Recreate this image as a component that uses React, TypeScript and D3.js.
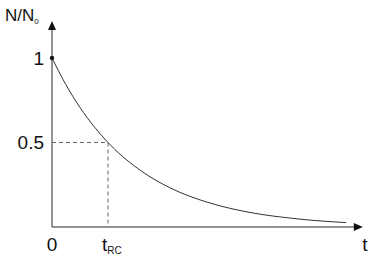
import React from "react";
import * as d3 from "d3";

// time in units of t_RC, normalized count N/N0
const tValues = [0, 0.25, 0.5, 0.75, 1, 1.25, 1.5, 1.75, 2, 2.25, 2.5, 2.75, 3, 3.25, 3.5, 3.75, 4, 4.25, 4.5, 4.75, 5, 5.25];
const nValues = [1, 0.841, 0.707, 0.595, 0.5, 0.42, 0.354, 0.297, 0.25, 0.21, 0.177, 0.149, 0.125, 0.105, 0.088, 0.074, 0.0625, 0.053, 0.044, 0.037, 0.031, 0.026];
const yTickValues = [1, 0.5];
const yTickLabels = ["1", "0.5"];
const xTickValues = [0, 1];
const xTickLabels = ["0", "t"];
const xTickSubs = ["", "RC"];
const halfLife = 1;
const halfValue = 0.5;
const tMax = 5.55;

export default function App() {
  const W = 385, H = 266;
  const x = d3.scaleLinear().domain([0, 1]).range([52, 108]);
  const y = d3.scaleLinear().domain([0, 1]).range([227, 58]);
  const pts: [number, number][] = tValues.map((t, i) => [t, nValues[i]]);
  const line = d3
    .line<[number, number]>()
    .x((d) => x(d[0]))
    .y((d) => y(d[1]))
    .curve(d3.curveMonotoneX);
  const axisColor = "#707070";
  const font = "'Liberation Sans', Arial, sans-serif";
  const x0 = x(0), y0 = y(0);
  const xEnd = x(tMax);
  const yTop = 21;
  return (
    <svg width={W} height={H} style={{ position: "absolute", left: 0, top: 0, background: "#fff" }} fontFamily={font}>
      {/* dashed guide lines */}
      <path
        d={`M${x0},${y(halfValue)}H${x(halfLife)}V${y0}`}
        fill="none"
        stroke="#666"
        strokeWidth={1}
        strokeDasharray="4,3"
      />
      {/* curve */}
      <path d={line(pts) || ""} fill="none" stroke="#333" strokeWidth={1} />
      {/* axes */}
      <line x1={x0} y1={y0} x2={xEnd - 6} y2={y0} stroke={axisColor} strokeWidth={1.5} />
      <line x1={x0} y1={y0} x2={x0} y2={yTop + 6} stroke={axisColor} strokeWidth={1.5} />
      <path d={`M${xEnd},${y0}L${xEnd - 9},${y0 - 4}L${xEnd - 9},${y0 + 4}Z`} fill="#111" />
      <path d={`M${x0},${yTop}L${x0 - 4},${yTop + 9}L${x0 + 4},${yTop + 9}Z`} fill="#111" />
      {/* start dot */}
      <circle cx={x0} cy={y(1)} r={2.2} fill="#111" />
      {/* y ticks */}
      {yTickValues.map((v, i) => (
        <text key={i} x={x0 - 8} y={y(v)} dy="0.36em" textAnchor="end" fontSize={19} fill="#111">
          {yTickLabels[i]}
        </text>
      ))}
      {/* x ticks */}
      {xTickValues.map((v, i) => (
        <text key={i} x={x(v)} y={251} textAnchor={xTickSubs[i] ? "start" : "middle"} fontSize={19} fill="#111" dx={xTickSubs[i] ? -6 : 0}>
          {xTickLabels[i]}
          {xTickSubs[i] && (
            <tspan fontSize={10} dy={3}>
              {xTickSubs[i]}
            </tspan>
          )}
        </text>
      ))}
      {/* axis titles */}
      <text x={365} y={251} textAnchor="middle" fontSize={19} fill="#111">t</text>
      <text x={5} y={21} fontSize={17} fill="#111">
        N/N<tspan fontSize={8} dy={3}>0</tspan>
      </text>
    </svg>
  );
}
